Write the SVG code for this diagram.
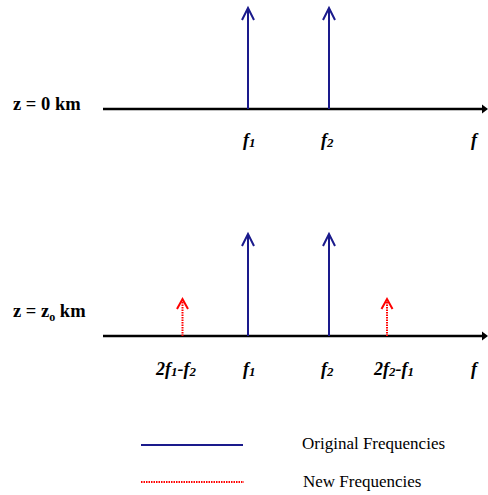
<svg xmlns="http://www.w3.org/2000/svg" width="488" height="495" viewBox="0 0 488 495">
<style>
.axis{stroke:#000;stroke-width:2.5;fill:none}
.orig{stroke:#1a1a8c;stroke-width:2;fill:none}
.new{stroke:#ff0000;stroke-width:2;fill:none;stroke-dasharray:1.5 1}
.head-o{stroke:#1a1a8c;stroke-width:2;fill:none}
.head-n{stroke:#ff0000;stroke-width:2;fill:none}
.lab{font-style:italic;font-size:18px;font-weight:bold}
.z{font-size:18.5px;font-weight:bold}
.leg{font-size:17px}
</style>
<g id="connectors">
  <g id="axis-top">
    <line class="axis" x1="103" y1="109" x2="484" y2="109"/>
    <polygon points="482,104.5 488,109 482,113.5" fill="#000"/>
  </g>
  <g id="axis-bottom">
    <line class="axis" x1="103" y1="336" x2="484" y2="336"/>
    <polygon points="482,331.5 488,336 482,340.5" fill="#000"/>
  </g>
  <g id="top-f1">
    <line class="orig" x1="248" y1="109" x2="248" y2="9"/>
    <polyline class="head-o" points="242,20 248,8 254,20"/>
  </g>
  <g id="top-f2">
    <line class="orig" x1="329" y1="109" x2="329" y2="9"/>
    <polyline class="head-o" points="323,20 329,8 335,20"/>
  </g>
  <g id="bot-f1">
    <line class="orig" x1="248" y1="336" x2="248" y2="235"/>
    <polyline class="head-o" points="242,246 248,234 254,246"/>
  </g>
  <g id="bot-f2">
    <line class="orig" x1="329" y1="336" x2="329" y2="235"/>
    <polyline class="head-o" points="323,246 329,234 335,246"/>
  </g>
  <g id="bot-2f1-f2">
    <line class="new" x1="182.5" y1="336" x2="182.5" y2="300"/>
    <polyline class="head-n" points="177,309 182.5,299 188,309"/>
  </g>
  <g id="bot-2f2-f1">
    <line class="new" x1="387" y1="336" x2="387" y2="300"/>
    <polyline class="head-n" points="381.5,309 387,299 392.5,309"/>
  </g>
</g>
<g font-family="Liberation Serif, Times New Roman, serif" fill="#000">
<g id="label-z0"><text class="z" x="13" y="110">z = 0 km</text></g>
<g id="label-zo"><text class="z" x="13" y="317">z = z<tspan font-size="12" dy="4">o</tspan><tspan dy="-4"> km</tspan></text></g>
<g id="top-labels">
  <text class="lab" x="243" y="146">f<tspan font-size="13" dy="1">1</tspan></text>
  <text class="lab" x="321" y="146">f<tspan font-size="13" dy="1">2</tspan></text>
  <text class="lab" x="471" y="146">f</text>
</g>
<g id="bottom-labels">
  <text class="lab" x="156" y="375">2f<tspan font-size="13" dy="1">1</tspan><tspan dy="-1">-f</tspan><tspan font-size="13" dy="1">2</tspan></text>
  <text class="lab" x="243" y="375">f<tspan font-size="13" dy="1">1</tspan></text>
  <text class="lab" x="321" y="375">f<tspan font-size="13" dy="1">2</tspan></text>
  <text class="lab" x="374" y="375">2f<tspan font-size="13" dy="1">2</tspan><tspan dy="-1">-f</tspan><tspan font-size="13" dy="1">1</tspan></text>
  <text class="lab" x="471" y="375">f</text>
</g>
<g id="legend">
  <line class="orig" x1="141" y1="445" x2="243" y2="445" stroke-width="2.5"/>
  <line class="new" x1="141" y1="482" x2="244" y2="482"/>
  <text class="leg" x="302" y="449">Original Frequencies</text>
  <text class="leg" x="303" y="487">New Frequencies</text>
</g>
</g>
</svg>
